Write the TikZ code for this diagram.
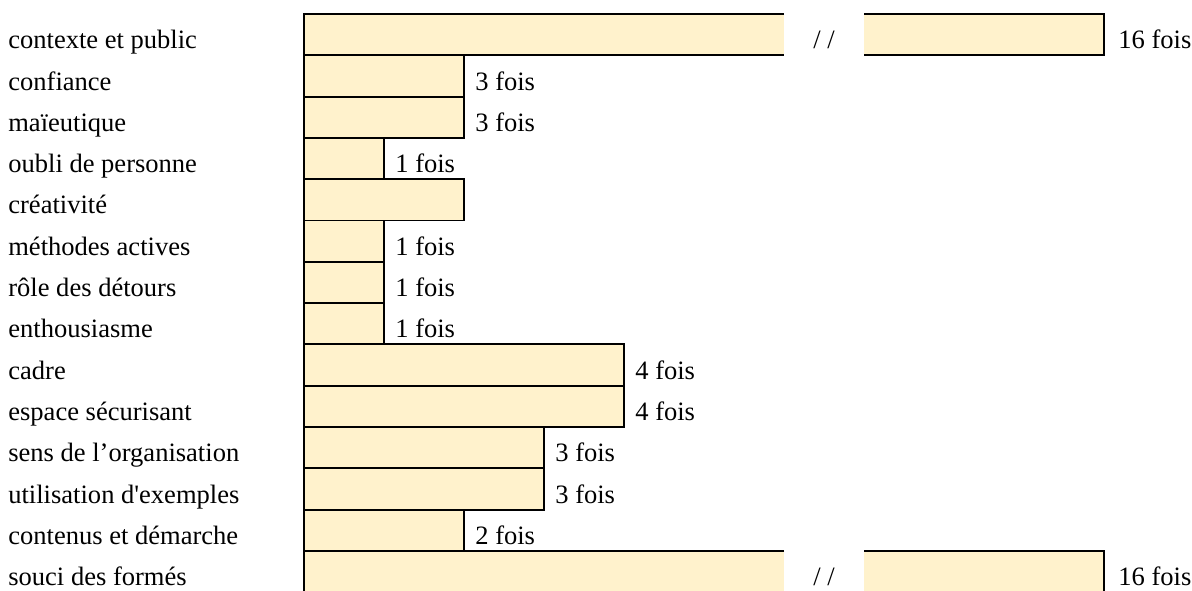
\documentclass[tikz,border=0pt]{standalone}
\usepackage{fontspec}
\setmainfont{Liberation Serif}
\usepackage{xcolor}
\definecolor{barfill}{HTML}{FFF2CC}

\begin{document}
\begin{tikzpicture}[
  every node/.style={font=\fontsize{15.1}{18}\selectfont, inner sep=0pt},
  barbox/.style={draw, line width=1.1pt, fill=barfill, minimum height=.826cm,
    anchor=north west, outer sep=0pt},
  splitbox/.style={fill=barfill, minimum height=.826cm, anchor=north west, outer sep=0pt},
  barline/.style={line width=1.1pt}
  ]
  \useasboundingbox (0,0) rectangle (23.84,-11.8);

  % row names
  \foreach \i/\txt in {0/contexte et public, 1/confiance, 2/maïeutique,
      3/oubli de personne, 4/créativité, 5/méthodes actives,
      6/rôle des détours, 7/enthousiasme, 8/cadre, 9/espace sécurisant,
      10/sens de l’organisation, 11/utilisation d\textquotesingle exemples,
      12/contenus et démarche, 13/souci des formés}
    \node[anchor=base west] (lab\i) at (.16,-.974-\i*.826) {\txt};

  % bars
  \foreach \i/\w in {1/2,2/2,3/1,4/2,5/1,6/1,7/1,8/4,9/4,10/3,11/3,12/2}
    \node[barbox, minimum width=\w*1.6cm] (bar\i) at (6.08,-.28-\i*.826) {};
  \foreach \i/\w/\val in {1/2/3,2/2/3,3/1/1,5/1/1,6/1/1,7/1/1,8/4/4,9/4/4,
      10/3/3,11/3/3,12/2/2}
    \node[anchor=base west] (val\i) at (6.3+\w*1.6,-.974-\i*.826) {\val{} fois};

  % cut bars
  \foreach \i in {0,13} {
    \node[splitbox, minimum width=9.6cm] (bar\i a) at (6.08,-.28-\i*.826) {};
    \node[splitbox, minimum width=4.8cm] (bar\i b) at (17.28,-.28-\i*.826) {};
    \draw[barline] (bar\i a.north east) -- (bar\i a.north west)
      -- (bar\i a.south west) -- (bar\i a.south east);
    \draw[barline] (bar\i b.north west) -- (bar\i b.north east)
      -- (bar\i b.south east) -- (bar\i b.south west);
    \node[anchor=base] (brk\i) at (16.48,-.974-\i*.826) {/ /};
    \node[anchor=base west] (val\i) at (22.36,-.974-\i*.826) {16 fois};
  }
\end{tikzpicture}
\end{document}
